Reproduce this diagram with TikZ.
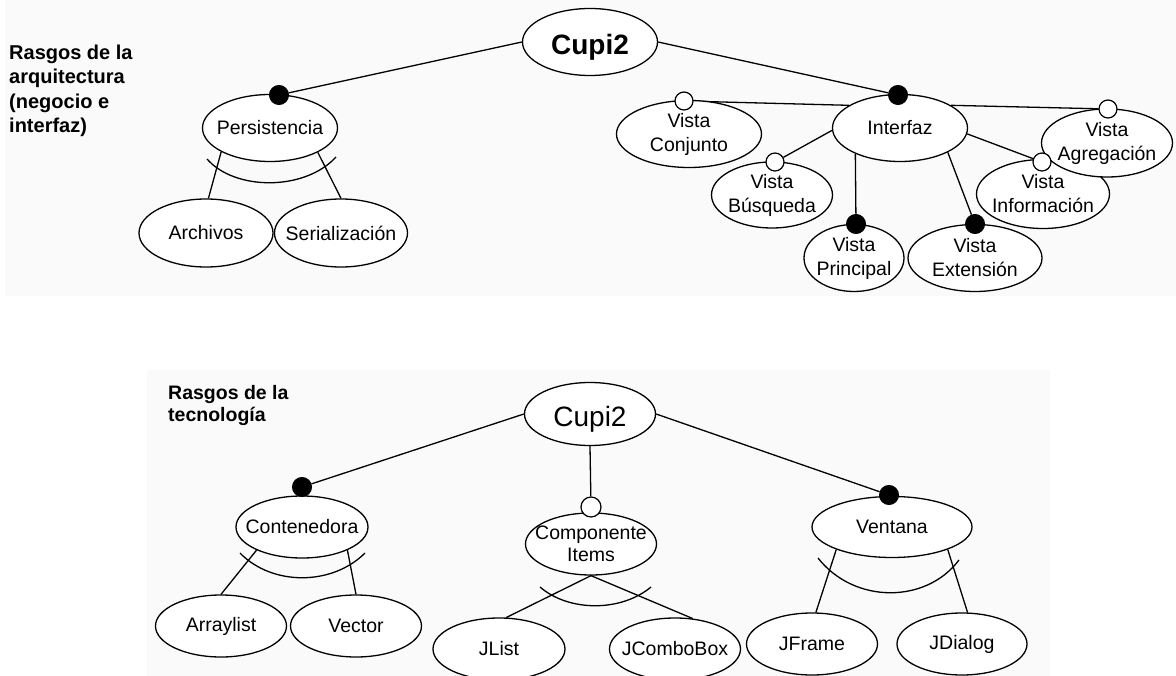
\documentclass[tikz,border=0pt]{standalone}
\usepackage{fontspec}
\setmainfont{Liberation Sans}
\usetikzlibrary{shapes.geometric}
\pgfdeclarelayer{paper}
\pgfdeclarelayer{links}
\pgfsetlayers{paper,links,main}
\definecolor{paperfill}{RGB}{250,250,250}
\tikzset{
  featell/.style={ellipse, draw=black, fill=white, line width=1.3pt, inner sep=0pt},
  featlbl/.style={inner sep=0pt, align=center, font=\fontsize{19.5}{24}\selectfont},
  mandot/.style={circle, draw=black, fill=black, line width=1pt, minimum size=19pt, inner sep=0pt},
  optdot/.style={circle, draw=black, fill=white, line width=1.2pt, minimum size=18pt, inner sep=0pt},
  link/.style={line width=1.3pt},
  altarc/.style={line width=1.3pt},
  heading/.style={inner sep=0pt, align=left, anchor=north west},
  rootlbl/.style={inner sep=0pt, anchor=base},
}
% feature: ellipse of fixed size plus its label
\newcommand\featnode[6]{%
  \node[featell, minimum width=#4pt, minimum height=#5pt] (#1) at (#2,#3) {};
  \node[featlbl] (#1-t) at (#1.center) {#6};}

\begin{document}
\begin{tikzpicture}[x=1pt,y=-1pt]
\useasboundingbox (0,0) rectangle (1176,676);
\clip (0,0) rectangle (1176,676);

\begin{pgfonlayer}{paper}
  \fill[white] (0,0) rectangle (1176,676);
  \fill[paperfill] (5,0) rectangle (1176,296);
  \fill[paperfill] (147,370) rectangle (1050,676);
\end{pgfonlayer}

% ---------- architecture features ----------
\node[heading, font=\bfseries\fontsize{20}{24.5}\selectfont] (archTitle) at (9,44.5)
  {Rasgos de la\\arquitectura\\(negocio e\\interfaz)};

\node[featell, minimum width=135pt, minimum height=67pt] (cupA) at (590,42) {};
\node[rootlbl, font=\bfseries\fontsize{28}{28}\selectfont] (cupA-t) at (590,55) {Cupi2};

\featnode{pers}{270}{128}{135}{67}{Persistencia}
\featnode{arch}{206}{233}{134}{68}{Archivos}
\featnode{seri}{341}{233}{133}{68}{Serialización}
\featnode{intf}{900}{128}{135}{67}{Interfaz}
\featnode{vcon}{689}{134}{145}{67}{Vista\\Conjunto}
\featnode{vbus}{772}{195}{121}{66}{Vista\\Búsqueda}
\featnode{vpri}{854}{258}{100}{67}{Vista\\Principal}
\featnode{vext}{975}{258}{134}{67}{Vista\\Extensión}
\featnode{vinf}{1043}{194}{133}{69}{Vista\\Información}
\featnode{vagr}{1107}{143}{131}{68}{Vista\\Agregación}

\node[mandot] (dPers) at (279,95) {};
\node[mandot] (dIntf) at (898,95) {};
\node[mandot] (dPri) at (856,224) {};
\node[mandot] (dExt) at (975,224) {};
\node[optdot] (cCon) at (684,101) {};
\node[optdot] (cBus) at (775,162) {};
\node[optdot] (cInf) at (1042,162) {};
\node[optdot] (cAgr) at (1108,109) {};

\begin{pgfonlayer}{links}
  \draw[link] (cupA.west) -- (dPers);
  \draw[link] (cupA.east) -- (dIntf);
  \draw[link] (intf.156) -- (cCon);
  \draw[link] (intf.182) -- (cBus);
  \draw[link] (intf.210) -- (dPri);
  \draw[link] (intf.333) -- (dExt);
  \draw[link] (intf.355) -- (cInf);
  \draw[link] (intf.24) -- (cAgr);
  \draw[link] (pers.206) -- (arch.86);
  \draw[link] (pers.333) -- (seri.north);
  \draw[altarc] ([shift={(-63,31)}]pers.center) .. controls ([shift={(-35,63)}]pers.center)
    and ([shift={(35,63)}]pers.center) .. ([shift={(66,29)}]pers.center);
\end{pgfonlayer}

% ---------- technology features ----------
\node[heading, font=\bfseries\fontsize{19.5}{22}\selectfont] (techTitle) at (168,384.8)
  {Rasgos de la\\tecnología};

\node[featell, minimum width=131pt, minimum height=63pt] (cupB) at (590,414) {};
\node[rootlbl, font=\fontsize{28}{28}\selectfont] (cupB-t) at (590,426) {Cupi2};

\featnode{cont}{302}{527}{132}{62}{Contenedora}
\featnode{arr}{221}{626}{131}{62}{Arraylist}
\featnode{vec}{356}{626}{131}{62}{Vector}
\node[featell, minimum width=131pt, minimum height=62pt] (comp) at (591,544) {};
\node[featlbl, font=\fontsize{19.5}{22}\selectfont] (comp-t) at (comp.center) {Componente\\Items};
\featnode{jlist}{499}{649}{132}{62}{JList}
\featnode{jcombo}{675}{649}{131}{62}{JComboBox}
\featnode{vent}{892}{527}{160}{61}{Ventana}
\featnode{jframe}{812}{644}{131}{62}{JFrame}
\featnode{jdial}{962}{644}{130}{62}{JDialog}

\node[mandot] (dCont) at (302,487) {};
\node[optdot, minimum size=20pt] (cComp) at (591,507) {};
\node[mandot] (dVent) at (889,495) {};

\begin{pgfonlayer}{links}
  \draw[link] (cupB.west) -- (dCont);
  \draw[link] (cupB.south) -- (cComp);
  \draw[link] (cupB.east) -- (dVent);
  \draw[link] (cont.207) -- (arr.north);
  \draw[link] (cont.333) -- (vec.north);
  \draw[link] (comp.south) -- (jlist.77);
  \draw[link] (comp.south) -- (jcombo.60);
  \draw[link] (vent.202) -- (jframe.83);
  \draw[link] (vent.338) -- (jdial.80);
  \draw[altarc] ([shift={(-62,26)}]cont.center) .. controls ([shift={(-30,59)}]cont.center)
    and ([shift={(30,59)}]cont.center) .. ([shift={(63,26)}]cont.center);
  \draw[altarc] ([shift={(-51,43)}]comp.center) .. controls ([shift={(-22,68)}]comp.center)
    and ([shift={(30,68)}]comp.center) .. ([shift={(60,43)}]comp.center);
  \draw[altarc] ([shift={(-74,31)}]vent.center) .. controls ([shift={(-38,77)}]vent.center)
    and ([shift={(34,77)}]vent.center) .. ([shift={(67,33)}]vent.center);
\end{pgfonlayer}
\end{tikzpicture}
\end{document}
